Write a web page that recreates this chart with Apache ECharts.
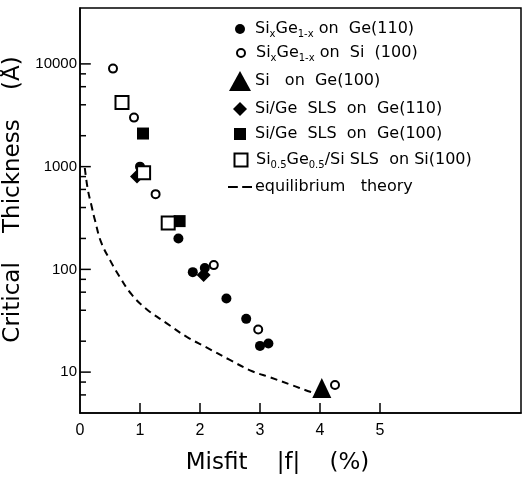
<!DOCTYPE html>
<html>
<head>
<meta charset="utf-8">
<script src="https://cdn.jsdelivr.net/npm/echarts@6/dist/echarts.min.js"></script>
<style>
  html, body { margin: 0; padding: 0; background: #fff; }
  #chart { width: 528px; height: 479px; }
</style>
</head>
<body>
<div id="chart"></div>
<script>
// values: [misfit |f| in %, critical thickness in Å]
const sixgeOnGe110 = [[1.0, 1000], [1.64, 200], [1.88, 94], [2.08, 103], [2.44, 52], [2.77, 33], [3.0, 18], [3.14, 19]];
const sixgeOnSi100 = [[0.55, 9000], [0.9, 3000], [1.26, 540], [2.23, 110], [2.97, 26], [4.25, 7.5]];
const siOnGe100 = [[4.03, 7]];
const slsOnGe110 = [[0.95, 800], [2.06, 88]];
const slsOnGe100 = [[1.05, 2100], [1.66, 295]];
const sls05OnSi100 = [[0.7, 4200], [1.06, 870], [1.47, 283]];
const equilibrium = [[0.08, 970], [0.13, 600], [0.19, 420], [0.25, 300], [0.35, 185], [0.5, 123], [0.66, 85], [0.86, 57],
  [1.11, 41], [1.44, 30], [1.78, 22], [2.1, 17.5], [2.49, 13.2], [2.87, 10.2], [3.17, 8.9], [3.55, 7.4],
  [3.85, 6.4], [4.0, 6.1]];

const xTickLabels = [0, 1, 2, 3, 4, 5];
const yTickLabels = [10, 100, 1000, 10000];
const yMinorTicks = [6, 8, 20, 40, 60, 80, 200, 400, 600, 800, 2000, 4000, 6000, 8000];

const seriesNames = ['SixGe1-x on Ge(110)', 'SixGe1-x on Si (100)', 'Si on Ge(100)', 'Si/Ge SLS on Ge(110)',
  'Si/Ge SLS on Ge(100)', 'Si0.5Ge0.5/Si SLS on Si(100)', 'equilibrium theory'];
const legendLabels = ['Si{s|x}Ge{s|1-x} on  Ge(110)', 'Si{s|x}Ge{s|1-x} on  Si  (100)', 'Si   on  Ge(100)',
  'Si/Ge  SLS  on  Ge(110)', 'Si/Ge  SLS  on  Ge(100)', 'Si{s|0.5}Ge{s|0.5}/Si SLS  on Si(100)', 'equilibrium   theory'];

const FONT = 'DejaVu Sans';
const black = '#000';
const X_MIN = 0, X_MAX = 7.35, Y_MIN = 4, Y_MAX = 35000;
// tick lengths in axis units (about 11px, 6px along x and 10px up the log axis)
const MAJOR_LEN = 0.18, MINOR_LEN = 0.1, X_TICK_FACTOR = 1.25;
const filled = { color: black, opacity: 1 };
const hollow = { color: '#fff', borderColor: black, borderWidth: 2, opacity: 1 };

// legend icon box per row [w, h] and row centre y
const iconBox = [[10, 10], [8, 8], [22, 20], [14, 14], [12, 12], [13, 13], [24, 14]];
const rowY = [29, 53, 81, 109, 134, 160, 187];
const dashIcon = 'path://M0,0h9v2h-9zM13,0h9v2h-9z';

let myChart = echarts.init(document.getElementById('chart'));

function scatter(i, data, symbol, size, style) {
  return {
    type: 'scatter', name: seriesNames[i], data: data,
    symbol: symbol, symbolSize: size, itemStyle: style
  };
}

// one short solid segment per tick, drawn through the axis scales
function tickSeries(a, b) {
  return {
    type: 'line', name: seriesNames[6], data: [a, b], symbol: 'none', showSymbol: false,
    clip: false, z: 3, lineStyle: { color: black, width: 1.5, type: 'solid' }, itemStyle: { color: black }
  };
}

const tickLines = [].concat(
  yTickLabels.map(v => tickSeries([X_MIN, v], [X_MIN + MAJOR_LEN, v])),
  yMinorTicks.map(v => tickSeries([X_MIN, v], [X_MIN + MINOR_LEN, v])),
  xTickLabels.slice(1).map(v => tickSeries([v, Y_MIN], [v, Y_MIN * X_TICK_FACTOR]))
);

const legends = seriesNames.map((name, i) => {
  const w = iconBox[i][0], h = iconBox[i][1];
  const left = 240 - w / 2;
  return {
    data: [i === 6 ? { name: name, icon: dashIcon } : name],
    left: left, top: rowY[i] - 10, padding: 0,
    itemWidth: w, itemHeight: h, selectedMode: false,
    formatter: () => legendLabels[i],
    textStyle: {
      fontFamily: FONT, fontSize: 16, color: black, lineHeight: 20,
      padding: [0, 0, 0, 255 - (left + w + 5)],
      rich: { s: { fontFamily: FONT, fontSize: 10, color: black, verticalAlign: 'bottom' } }
    }
  };
});

const axisLineStyle = { color: black, width: 1.5 };

myChart.setOption({
  animation: false,
  backgroundColor: '#fff',
  grid: {
    left: 80, right: 7, top: 8, bottom: 66, show: true, borderColor: black, borderWidth: 1.5,
    outerBoundsMode: 'none', containLabel: false
  },
  legend: legends,
  xAxis: {
    type: 'value', min: X_MIN, max: X_MAX, interval: 1,
    axisLine: { show: true, onZero: false, lineStyle: axisLineStyle },
    axisTick: { show: false },
    axisLabel: { customValues: xTickLabels, color: black, fontFamily: 'Liberation Sans', fontSize: 16, margin: 10 },
    splitLine: { show: false },
    name: 'Misfit    |f|    (%)', nameLocation: 'middle', nameGap: 39,
    nameTextStyle: { fontFamily: FONT, fontSize: 23, color: black, padding: [0, 46, 0, 0] }
  },
  yAxis: {
    type: 'log', logBase: 10, min: Y_MIN, max: Y_MAX,
    axisLine: { show: true, onZero: false, lineStyle: axisLineStyle },
    axisTick: { show: false },
    axisLabel: {
      showMinLabel: false, showMaxLabel: false,
      formatter: v => (yTickLabels.indexOf(Math.round(v)) >= 0 ? String(Math.round(v)) : ''),
      color: black, fontFamily: 'Liberation Sans', fontSize: 15, margin: 3, padding: [0, 0, 5, 0]
    },
    splitLine: { show: false },
    name: 'Critical    Thickness    (Å)', nameLocation: 'middle', nameGap: 46, nameRotate: 90,
    nameTextStyle: { fontFamily: FONT, fontSize: 23, color: black, padding: [0, 0, 0, 22] }
  },
  series: [
    {
      type: 'line', name: seriesNames[6], data: equilibrium, smooth: 0.4,
      symbol: 'none', showSymbol: false,
      lineStyle: { color: black, width: 2, type: [7, 5] },
      itemStyle: { color: black }
    },
    scatter(0, sixgeOnGe110, 'circle', 10, filled),
    scatter(3, slsOnGe110, 'diamond', 14, filled),
    scatter(4, slsOnGe100, 'rect', 12, filled),
    scatter(2, siOnGe100, 'triangle', [19, 20], filled),
    scatter(1, sixgeOnSi100, 'circle', 8, hollow),
    scatter(5, sls05OnSi100, 'rect', 13, hollow)
  ].concat(tickLines)
});
</script>
</body>
</html>
